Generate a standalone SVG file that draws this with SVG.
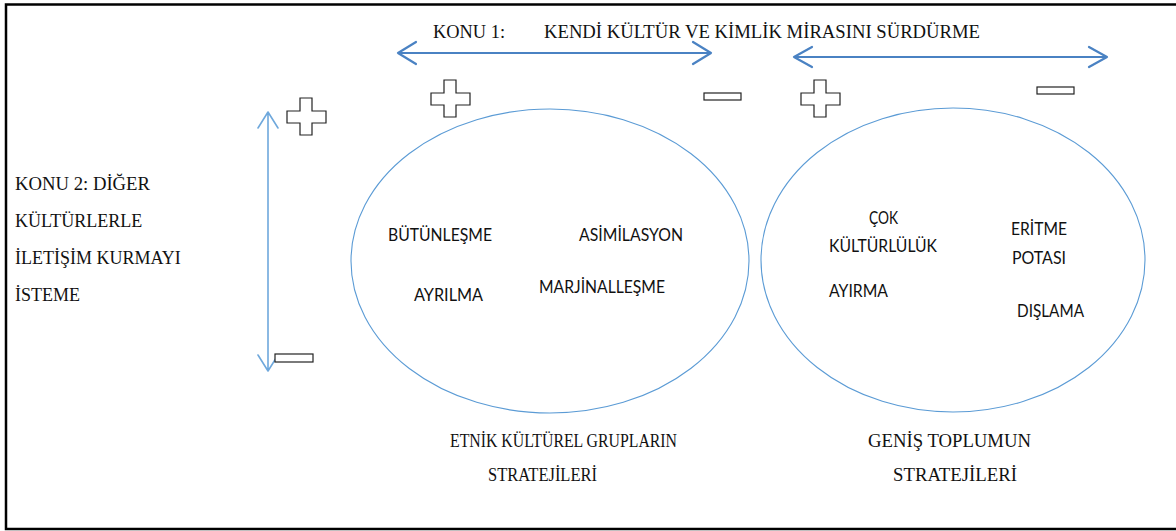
<svg xmlns="http://www.w3.org/2000/svg" width="1176" height="531" viewBox="0 0 1176 531">
<style>
.serif{font-family:"Liberation Serif","Times New Roman",serif;font-size:18px;fill:#111}
.sans{font-family:Lato,"Open Sans","Liberation Sans",sans-serif;font-size:16.5px;fill:#111}
.ell{fill:none;stroke:#5B9BD5;stroke-width:1.1}
.arr{fill:none;stroke:#4A82C3;stroke-width:2.2;stroke-linecap:round;stroke-linejoin:round}
.varr{fill:none;stroke:#6FA8DC;stroke-width:1.6;stroke-linecap:round;stroke-linejoin:round}
.sym{fill:#fff;stroke:#222;stroke-width:1.2}
</style>
<defs>
<path id="plus" class="sym" d="M13,0 H25 V13 H39 V25 H25 V37 H13 V25 H0 V13 H13 Z"/>
</defs>
<rect width="1176" height="531" fill="#fff"/>
<path d="M1176,4.5 H6 V529 H1176" fill="none" stroke="#000" stroke-width="2.5"/>

<g id="konu1">
<text class="serif" x="433" y="38" textLength="72" lengthAdjust="spacingAndGlyphs">KONU 1:</text>
<text class="serif" x="544" y="38" textLength="436" lengthAdjust="spacingAndGlyphs">KENDİ KÜLTÜR VE KİMLİK MİRASINI SÜRDÜRME</text>
</g>
<g id="konu2">
<text class="serif" x="15" y="190" textLength="135" lengthAdjust="spacingAndGlyphs">KONU 2: DİĞER</text>
<text class="serif" x="15" y="227">KÜLTÜRLERLE</text>
<text class="serif" x="15" y="264">İLETİŞİM KURMAYI</text>
<text class="serif" x="15" y="301">İSTEME</text>
</g>

<g id="connectors">
<path class="arr" d="M398,53 H711 M416,42 L398,53 L416,64 M693,42 L711,53 L693,64"/>
<path class="arr" d="M794,57 H1107 M812,47 L794,57 L812,67 M1089,47 L1107,57 L1089,67"/>
<path class="varr" d="M268,112 V371 M258,128 L268,112 L278,128 M258,355 L268,371 L278,355"/>
</g>

<g id="signs">
<use href="#plus" x="287" y="98"/>
<use href="#plus" x="431" y="80"/>
<use href="#plus" x="801" y="80"/>
<rect class="sym" x="704" y="93" width="37" height="7"/>
<rect class="sym" x="1037" y="87" width="37" height="7"/>
<rect class="sym" x="275" y="354" width="38" height="8"/>
</g>

<g id="etnik">
<ellipse class="ell" cx="550" cy="261" rx="199" ry="152"/>
<text class="sans" x="388" y="241" textLength="104" lengthAdjust="spacingAndGlyphs">BÜTÜNLEŞME</text>
<text class="sans" x="579" y="241" textLength="104" lengthAdjust="spacingAndGlyphs">ASİMİLASYON</text>
<text class="sans" x="414" y="301" textLength="69" lengthAdjust="spacingAndGlyphs">AYRILMA</text>
<text class="sans" x="539" y="293" textLength="126" lengthAdjust="spacingAndGlyphs">MARJİNALLEŞME</text>
<text class="serif" x="450" y="447" textLength="227" lengthAdjust="spacingAndGlyphs">ETNİK KÜLTÜREL GRUPLARIN</text>
<text class="serif" x="488" y="481" textLength="109" lengthAdjust="spacingAndGlyphs">STRATEJİLERİ</text>
</g>

<g id="genis">
<ellipse class="ell" cx="953" cy="260" rx="192" ry="152"/>
<text class="sans" x="869" y="224" textLength="29" lengthAdjust="spacingAndGlyphs">ÇOK</text>
<text class="sans" x="829" y="252" textLength="108" lengthAdjust="spacingAndGlyphs">KÜLTÜRLÜLÜK</text>
<text class="sans" x="1011" y="235" textLength="56" lengthAdjust="spacingAndGlyphs">ERİTME</text>
<text class="sans" x="1012" y="264" textLength="54" lengthAdjust="spacingAndGlyphs">POTASI</text>
<text class="sans" x="829" y="297" textLength="59" lengthAdjust="spacingAndGlyphs">AYIRMA</text>
<text class="sans" x="1017" y="317" textLength="67" lengthAdjust="spacingAndGlyphs">DIŞLAMA</text>
<text class="serif" x="868" y="447" textLength="163" lengthAdjust="spacingAndGlyphs">GENİŞ TOPLUMUN</text>
<text class="serif" x="893" y="481" textLength="124" lengthAdjust="spacingAndGlyphs">STRATEJİLERİ</text>
</g>
</svg>
